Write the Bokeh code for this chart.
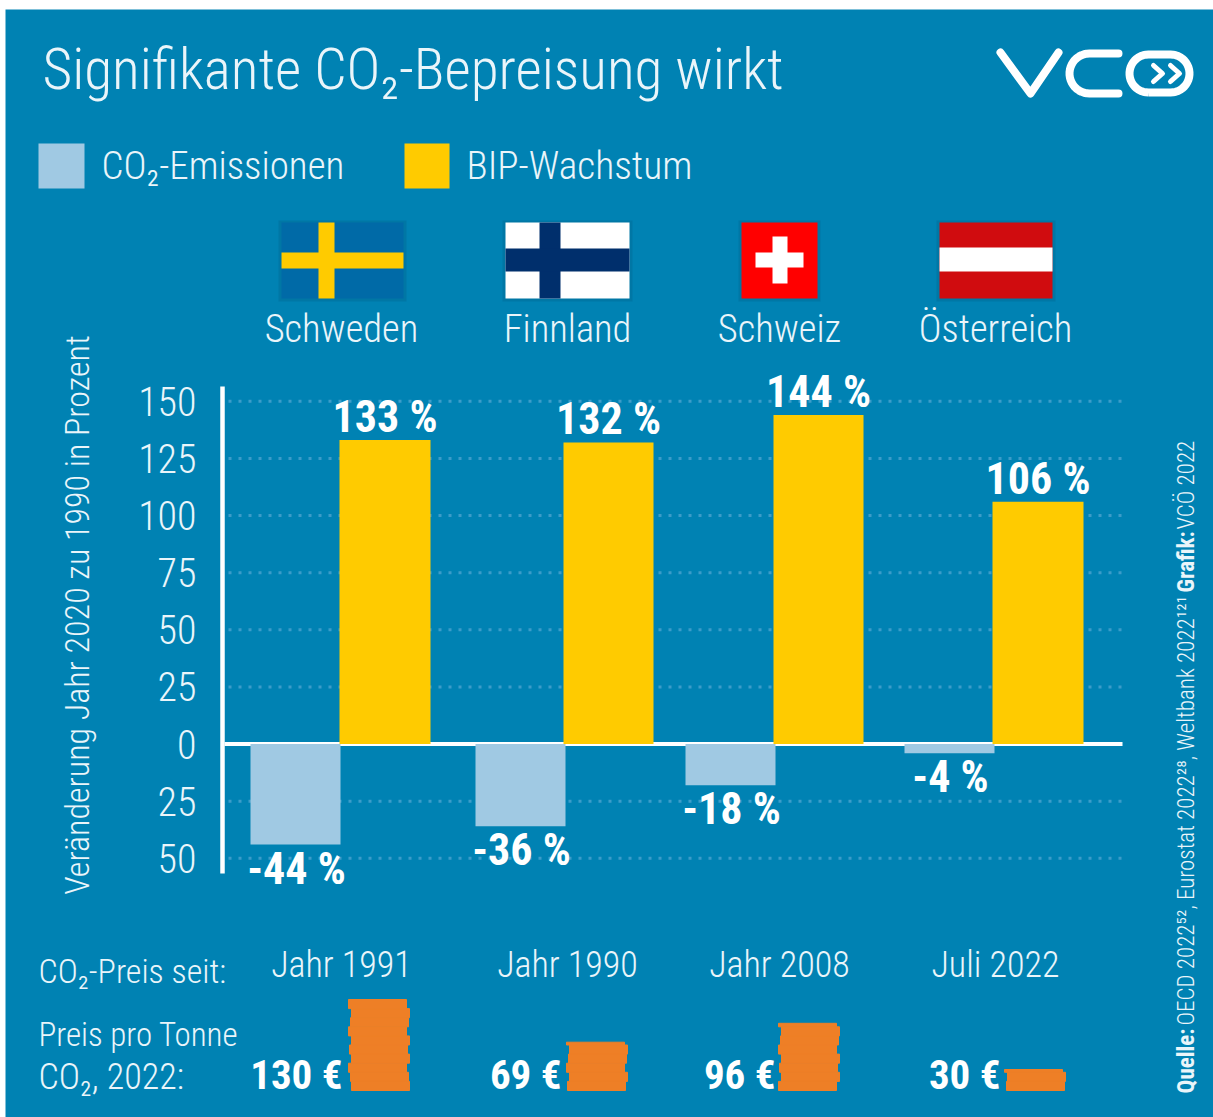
import numpy as np
from bokeh.plotting import figure
from bokeh.models import Range1d, FixedTicker
from bokeh.core.properties import value
from bokeh.embed import file_html
from bokeh.resources import INLINE

# ---------- data ----------
countries = ["Schweden", "Finnland", "Schweiz", "Österreich"]
co2_change = [-44, -36, -18, -4]
gdp_change = [133, 132, 144, 106]
price_since = ["Jahr 1991", "Jahr 1990", "Jahr 2008", "Juli 2022"]
price_per_ton = [130, 69, 96, 30]
y_ticks = [-50, -25, 0, 25, 50, 75, 100, 125, 150]
y_tick_labels = {-50: "50", -25: "25", 0: "0", 25: "25", 50: "50", 75: "75", 100: "100", 125: "125", 150: "150"}

# ---------- layout ----------
L, R, T, B = 5, 1213, 9, 1117
ZERO_Y, PX_PER_UNIT = 743.5, 2.285
PRICE_BASE_Y, PX_PER_EUR = 1090, 0.7
FONT, BOLD_FONT, BLUE = "Roboto Condensed Light", "Roboto Condensed", "#0082B3"
SOFT = "#EAF5FA"
LIGHT_BAR, GOLD, ORANGE = "#A0C9E3", "#FFCB00", "#EE7F26"
light_x = [(250, 340), (475, 565), (685, 775), (904, 994)]
gold_x = [(339, 430), (563, 653), (773, 863), (992, 1083)]
label_center_x = [341, 567, 779, 995]
stack_x = [348, 566, 778, 1004]
price_right = [342, 561, 775, 1000]
coin_shift = [0, 3, 2, 0, 3, 1, 3, 0, 2, 3, 1, 3, 3]

p = figure(width=R, height=B, output_backend="svg", toolbar_location=None,
           x_range=Range1d(L, R),
           y_range=Range1d((ZERO_Y - B) / PX_PER_UNIT, (ZERO_Y - T) / PX_PER_UNIT),
           x_axis_type=None, min_border_left=L, min_border_top=T, min_border_right=0, min_border_bottom=0,
           outline_line_color=None, background_fill_color=BLUE, border_fill_color="white")
p.extra_y_ranges = {"page": Range1d(B, T),
                    "price": Range1d((PRICE_BASE_Y - B) / PX_PER_EUR, (PRICE_BASE_Y - T) / PX_PER_EUR)}
p.grid.visible = False

ax = p.yaxis[0]
ax.fixed_location = 222
ax.ticker = FixedTicker(ticks=y_ticks)
ax.major_label_overrides = y_tick_labels
ax.bounds = (-56.5, 156.5)
ax.axis_line_color = "white"
ax.axis_line_width = 4.5
ax.major_tick_line_color = None
ax.minor_tick_line_color = None
ax.major_label_standoff = 20
ax.major_label_text_font = FONT
ax.major_label_text_font_size = "40px"
ax.major_label_text_color = SOFT


def txt(x, y, s, size, align="left", bold=False, angle=0, color=SOFT):
    p.text([x], [y], text=[s], y_range_name="page", text_font=value(BOLD_FONT if bold else FONT),
           text_font_size=f"{size}px", text_align=align, text_baseline="middle", angle=angle,
           text_font_style="bold" if bold else "normal", text_color=color)


def box(x0, x1, y0, y1, color, alpha=1.0):
    p.quad(left=[x0], right=[x1], top=[y0], bottom=[y1], y_range_name="page",
           fill_color=color, fill_alpha=alpha, line_color=None)


# gridlines, zero line
grid_vals = [t for t in y_ticks if t != 0]
p.segment(x0=[228] * len(grid_vals), x1=[1122] * len(grid_vals), y0=grid_vals, y1=grid_vals,
          line_color="#3C9CC9", line_width=3, line_dash="3 7")
p.segment(x0=[224], x1=[1122], y0=[0], y1=[0], line_color="white", line_width=4)

# bars
p.quad(left=[a for a, _ in light_x], right=[b for _, b in light_x], top=[0] * 4, bottom=co2_change,
       fill_color=LIGHT_BAR, line_color=None)
p.quad(left=[a for a, _ in gold_x], right=[b for _, b in gold_x], top=gdp_change, bottom=[0] * 4,
       fill_color=GOLD, line_color=None)

# value labels
for i in range(4):
    p.text([sum(gold_x[i]) / 2], [gdp_change[i]], text=[f"{gdp_change[i]} %"], y_offset=-23,
           text_font=value(BOLD_FONT), text_font_size="44px", text_font_style="bold", text_color="white",
           text_align="center", text_baseline="middle")
    p.text([sum(light_x[i]) / 2 + 1], [co2_change[i]], text=[f"{co2_change[i]} %"], y_offset=24,
           text_font=value(BOLD_FONT), text_font_size="44px", text_font_style="bold", text_color="white",
           text_align="center", text_baseline="middle")

# header
txt(42, 69, "Signifikante CO₂-Bepreisung wirkt", 57.3)
box(38, 84, 143, 188, LIGHT_BAR)
txt(101, 165, "CO₂-Emissionen", 39)
box(404, 449, 143, 188, GOLD)
txt(466, 165, "BIP-Wachstum", 39.5)

# logo
arc = np.linspace(np.pi / 2, 3 * np.pi / 2, 24)
p.multi_line(xs=[[1000, 1030, 1058], [1118] + list(1089 + 20 * np.cos(arc)) + [1118]],
             ys=[[52, 93, 52], [93] + list(73 + 20 * np.sin(arc)) + [53]], y_range_name="page",
             line_color="white", line_width=8, line_cap="round", line_join="round")
t_l = np.linspace(np.pi / 2, 3 * np.pi / 2, 24)
t_r = np.linspace(-np.pi / 2, np.pi / 2, 24)
p.line(x=list(1148 + 19 * np.cos(t_l)) + list(1170 + 19 * np.cos(t_r)) + [1148],
       y=list(73 + 19 * np.sin(t_l)) + list(73 + 19 * np.sin(t_r)) + [92], y_range_name="page",
       line_color="white", line_width=8)
p.multi_line(xs=[[1153, 1162, 1153], [1170, 1179, 1170]], ys=[[65, 73, 81], [65, 73, 81]], y_range_name="page",
             line_color="white", line_width=5, line_cap="round", line_join="round")

# flags (with soft shadow)
for x0, x1 in [(281, 403), (505, 629), (741, 817), (939, 1052)]:
    box(x0 - 3, x1 + 3, 220, 301, "#003050", 0.13)
box(281, 403, 222, 298, "#006AA7")
box(318, 334, 222, 298, GOLD)
box(281, 403, 252, 268, GOLD)
box(505, 629, 222, 298, "white")
box(539, 560, 222, 298, "#002F6C")
box(505, 629, 248, 271, "#002F6C")
box(741, 817, 222, 298, "#FF0000")
box(755, 803, 252, 267, "white")
box(772, 787, 236, 283, "white")
box(939, 1052, 222, 298, "#D00C0F")
box(939, 1052, 247, 271, "white")

for cx, c in zip(label_center_x, countries):
    txt(cx, 328, c, 38.5, "center")

# side texts
txt(76, 614.5, "Veränderung Jahr 2020 zu 1990 in Prozent", 34, "center", angle=np.pi / 2)
txt(1186, 1093, "Quelle:", 23, bold=True, angle=np.pi / 2)
txt(1186, 1025, "OECD 2022⁵², Eurostat 2022²⁸, Weltbank 2022¹²¹", 23, angle=np.pi / 2)
txt(1186, 592, "Grafik:", 23, bold=True, angle=np.pi / 2)
txt(1186, 529, "VCÖ 2022", 23, angle=np.pi / 2)

# bottom table
txt(38, 970, "CO₂-Preis seit:", 34)
txt(38, 1034, "Preis pro Tonne", 33)
txt(38, 1076, "CO₂, 2022:", 36)
for cx, s in zip(label_center_x, price_since):
    txt(cx, 964, s, 36, "center")

COIN_EUR = 13
for i, v in enumerate(price_per_ton):
    edges = list(np.arange(0, v, COIN_EUR)) + [v]
    bottoms, tops = edges[:-1], edges[1:]
    shifts = coin_shift[:len(bottoms)][::-1]
    p.quad(left=[stack_x[i] + s for s in shifts], right=[stack_x[i] + 58 + s for s in shifts],
           bottom=bottoms, top=tops, y_range_name="price", fill_color=ORANGE, line_color=ORANGE, line_width=1)
    txt(price_right[i], 1074, f"{v} €", 41, "right", bold=True, color="white")

open("out.html", "w").write(file_html(p, INLINE))
